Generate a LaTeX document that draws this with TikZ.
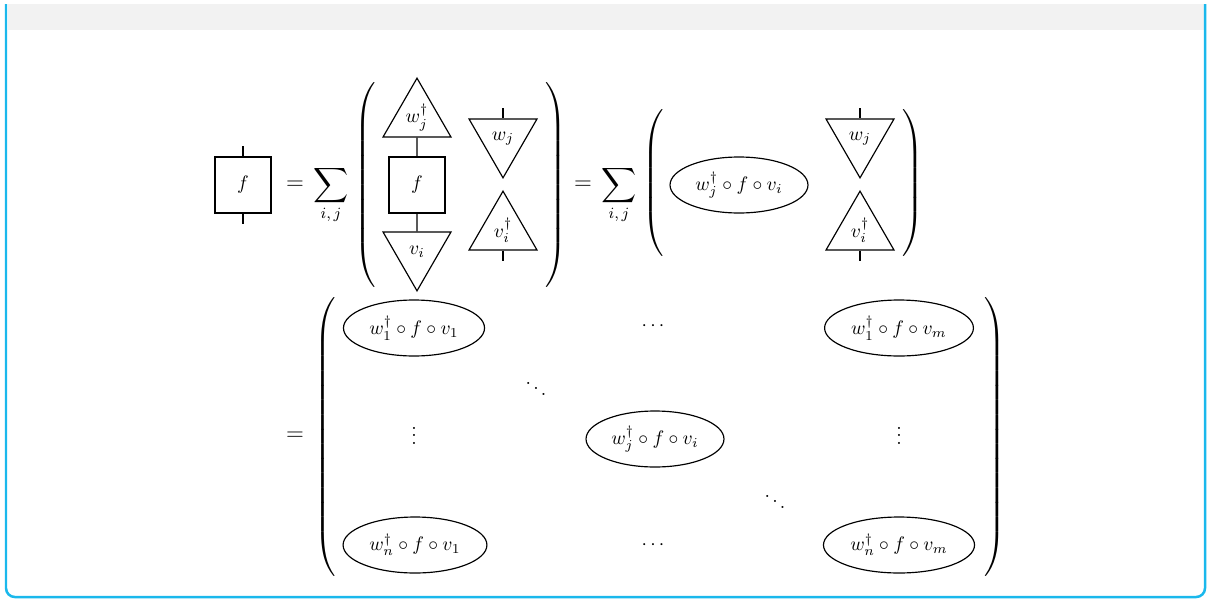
\documentclass[tikz,border=0pt]{standalone}
\usepackage{tikz}
\usetikzlibrary{shapes.geometric, positioning}
\definecolor{framecyan}{HTML}{1AB8EC}
\definecolor{headergray}{HTML}{F2F2F2}
\newcommand{\tallopen}[1]{\scalebox{1.25}{$\left(\vrule height #1 depth #1 width 0pt\right.$}}
\newcommand{\tallclose}[1]{\scalebox{1.25}{$\left.\vrule height #1 depth #1 width 0pt\right)$}}
\newcommand{\bigsum}{\mathop{\scalebox{1.25}{$\displaystyle\sum$}}\limits_{i,\,j}}

\begin{document}
\begin{tikzpicture}[
      x=0.018cm, y=-0.018cm,
      mapbox/.style={draw, semithick, minimum size=1.008cm, inner sep=0pt},
      effup/.style={draw, semithick, regular polygon, regular polygon sides=3,
        minimum size=1.413cm, inner sep=0pt},
      effdown/.style={effup, shape border rotate=180},
      numblob/.style={draw, semithick, ellipse, minimum width=2.484cm,
        minimum height=1.008cm, inner sep=0pt},
      paren/.style={inner sep=0pt, outer sep=0pt},
      eqsign/.style={font=\large},
      wire/.style={semithick}
    ]
      \useasboundingbox (0,0) rectangle (1207,599);
      % frame
      \fill[headergray] (8,4) rectangle (1204,30);
      \draw[framecyan, line width=0.045cm, rounded corners=0.16cm]
        (6,4) -- (6,597) -- (1205,597) -- (1205,4);

      % top row, left hand side
      \node[mapbox] (f) at (243,185) {$f$};
      \coordinate[above=0.18cm of f.north] (ftop);
      \coordinate[below=0.18cm of f.south] (fbot);
      \draw[wire] (ftop) -- (f.north);
      \draw[wire] (f.south) -- (fbot);
      \node[eqsign] (eqa) at (295,185) {$=$};
      \node[eqsign] (suma) at (331,195) {$\displaystyle\bigsum$};

      % first bracket
      \node[paren] (lpa) at (367,185) {\tallopen{1.38cm}};
      \node[effup] (wdag) at (417,117.4) {$w_j^\dagger$};
      \node[mapbox] (fmid) at (417,185) {$f$};
      \node[effdown] (vi) at (417,251.6) {$v_i$};
      \draw[wire] (wdag.south) -- (fmid.north);
      \draw[wire] (fmid.south) -- (vi.north);
      \node[effdown] (wj) at (503,138.6) {$w_j$};
      \node[effup] (vdag) at (503,230.4) {$v_i^\dagger$};
      \coordinate[above=0.18cm of wj.north] (wjtop);
      \coordinate[below=0.18cm of vdag.south] (vdagbot);
      \draw[wire] (wjtop) -- (wj.north);
      \draw[wire] (vdag.south) -- (vdagbot);
      \node[paren] (rpa) at (555,185) {\tallclose{1.38cm}};

      % second bracket
      \node[eqsign] (eqb) at (583,185) {$=$};
      \node[eqsign] (sumb) at (619,195) {$\displaystyle\bigsum$};
      \node[paren] (lpb) at (655,185) {\tallopen{1.02cm}};
      \node[numblob] (scal) at (739,185) {$w_j^\dagger\circ f\circ v_i$};
      \node[effdown] (wjb) at (860,138.6) {$w_j$};
      \node[effup] (vdagb) at (860,230.4) {$v_i^\dagger$};
      \coordinate[above=0.18cm of wjb.north] (wjbtop);
      \coordinate[below=0.18cm of vdagb.south] (vdagbbot);
      \draw[wire] (wjbtop) -- (wjb.north);
      \draw[wire] (vdagb.south) -- (vdagbbot);
      \node[paren] (rpb) at (912,185) {\tallclose{1.02cm}};

      % matrix of numbers
      \node[eqsign] (eqc) at (295,436) {$=$};
      \node[paren] (lpc) at (327,437) {\tallopen{1.9cm}};
      \node[numblob, minimum width=2.54cm] (e11) at (414,328)
        {$w_1^\dagger\circ f\circ v_1$};
      \node (c1) at (653,326) {$\cdots$};
      \node[numblob, minimum width=2.68cm] (e1m) at (899,328)
        {$w_1^\dagger\circ f\circ v_m$};
      \node (d1) at (536,383) {$\ddots$};
      \node (v1) at (414,430) {$\vdots$};
      \node[numblob] (eji) at (655,439) {$w_j^\dagger\circ f\circ v_i$};
      \node (v2) at (899,430) {$\vdots$};
      \node (d2) at (775,496) {$\ddots$};
      \node[numblob, minimum width=2.59cm] (en1) at (415,545)
        {$w_n^\dagger\circ f\circ v_1$};
      \node (c2) at (653,545) {$\cdots$};
      \node[numblob, minimum width=2.72cm] (enm) at (899,545)
        {$w_n^\dagger\circ f\circ v_m$};
      \node[paren] (rpc) at (994,437) {\tallclose{1.9cm}};
    \end{tikzpicture}
\end{document}
